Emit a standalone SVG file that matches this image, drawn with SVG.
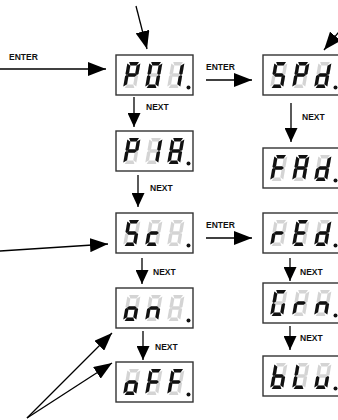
<svg xmlns="http://www.w3.org/2000/svg" xmlns:xlink="http://www.w3.org/1999/xlink" width="338" height="420" viewBox="0 0 338 420">
<style>
.bg{fill:#fff}
.box{fill:#fff;stroke:#333;stroke-width:1.4}
.dg{fill:#111}
.u{fill:#d4d4d4}
.dot{fill:#111}
.ln{stroke:#000;stroke-width:1.3;fill:none}
.big{marker-end:url(#ahb)}
.sm{marker-end:url(#ahs)}
.lbl{font-family:"Liberation Sans",Arial,sans-serif;font-weight:bold;font-size:8.5px;fill:#111}
</style>
<defs>
<marker id="ahb" markerUnits="userSpaceOnUse" markerWidth="19" markerHeight="14" refX="18" refY="7" orient="auto"><path d="M0,0 L18,7 L0,14 Z" fill="#000"/></marker>
<marker id="ahs" markerUnits="userSpaceOnUse" markerWidth="15" markerHeight="13" refX="14" refY="6.5" orient="auto"><path d="M0,0 L14,6.5 L0,13 Z" fill="#000"/></marker>
<g id="d8">
<polygon id="a" points="1.6,0 11.4,0 9.6,3.4 3.4,3.4"/>
<polygon id="b" points="13,1.6 13,12 11.6,13 9.6,11.4 9.6,3.8"/>
<polygon id="c" points="11.6,13 13,14 13,24.4 9.6,22.2 9.6,14.6"/>
<polygon id="d" points="3.4,22.6 9.6,22.6 11.4,26 1.6,26"/>
<polygon id="e" points="0,14 1.4,13 3.4,14.6 3.4,22.2 0,24.4"/>
<polygon id="f" points="0,1.6 3.4,3.8 3.4,11.4 1.4,13 0,12"/>
<polygon id="g" points="1.4,13 3.4,11.3 9.6,11.3 11.6,13 9.6,14.7 3.4,14.7"/>
</g>
</defs>
<rect class="bg" x="0" y="0" width="338" height="420"/>

<g id="node-P01">
<rect class="box" x="116" y="55" width="77" height="40"/>
<g class="dg" transform="translate(127.6,62) skewX(-10)"><use href="#d8" class="u"/><use href="#a"/><use href="#b"/><use href="#e"/><use href="#f"/><use href="#g"/></g>
<g class="dg" transform="translate(149.6,62) skewX(-10)"><use href="#d8" class="u"/><use href="#a"/><use href="#b"/><use href="#c"/><use href="#d"/><use href="#e"/><use href="#f"/></g>
<g class="dg" transform="translate(171.6,62) skewX(-10)"><use href="#d8" class="u"/><use href="#b"/><use href="#c"/></g>
<circle class="dot" cx="188.5" cy="87.5" r="2"/>
</g>

<g id="node-P18">
<rect class="box" x="116" y="131" width="77" height="40"/>
<g class="dg" transform="translate(127.6,138) skewX(-10)"><use href="#d8" class="u"/><use href="#a"/><use href="#b"/><use href="#e"/><use href="#f"/><use href="#g"/></g>
<g class="dg" transform="translate(149.6,138) skewX(-10)"><use href="#d8" class="u"/><use href="#b"/><use href="#c"/></g>
<g class="dg" transform="translate(171.6,138) skewX(-10)"><use href="#d8"/></g>
<circle class="dot" cx="188.5" cy="163.5" r="2"/>
</g>

<g id="node-Sc">
<rect class="box" x="116" y="213" width="77" height="40"/>
<g class="dg" transform="translate(127.6,220) skewX(-10)"><use href="#d8" class="u"/><use href="#a"/><use href="#c"/><use href="#d"/><use href="#f"/><use href="#g"/></g>
<g class="dg" transform="translate(149.6,220) skewX(-10)"><use href="#d8" class="u"/><use href="#d"/><use href="#e"/><use href="#g"/></g>
<g class="dg" transform="translate(171.6,220) skewX(-10)"><use href="#d8" class="u"/></g>
<circle class="dot" cx="188.5" cy="245.5" r="2"/>
</g>

<g id="node-on">
<rect class="box" x="116" y="288" width="77" height="40"/>
<g class="dg" transform="translate(127.6,295) skewX(-10)"><use href="#d8" class="u"/><use href="#c"/><use href="#d"/><use href="#e"/><use href="#g"/></g>
<g class="dg" transform="translate(149.6,295) skewX(-10)"><use href="#d8" class="u"/><use href="#c"/><use href="#e"/><use href="#g"/></g>
<g class="dg" transform="translate(171.6,295) skewX(-10)"><use href="#d8" class="u"/></g>
<circle class="dot" cx="188.5" cy="320.5" r="2"/>
</g>

<g id="node-oFF">
<rect class="box" x="116" y="362" width="77" height="40"/>
<g class="dg" transform="translate(127.6,369) skewX(-10)"><use href="#d8" class="u"/><use href="#c"/><use href="#d"/><use href="#e"/><use href="#g"/></g>
<g class="dg" transform="translate(149.6,369) skewX(-10)"><use href="#d8" class="u"/><use href="#a"/><use href="#e"/><use href="#f"/><use href="#g"/></g>
<g class="dg" transform="translate(171.6,369) skewX(-10)"><use href="#d8" class="u"/><use href="#a"/><use href="#e"/><use href="#f"/><use href="#g"/></g>
<circle class="dot" cx="188.5" cy="394.5" r="2"/>
</g>

<g id="node-SPd">
<rect class="box" x="263" y="55" width="77" height="40"/>
<g class="dg" transform="translate(274.6,62) skewX(-10)"><use href="#d8" class="u"/><use href="#a"/><use href="#c"/><use href="#d"/><use href="#f"/><use href="#g"/></g>
<g class="dg" transform="translate(296.6,62) skewX(-10)"><use href="#d8" class="u"/><use href="#a"/><use href="#b"/><use href="#e"/><use href="#f"/><use href="#g"/></g>
<g class="dg" transform="translate(318.6,62) skewX(-10)"><use href="#d8" class="u"/><use href="#b"/><use href="#c"/><use href="#d"/><use href="#e"/><use href="#g"/></g>
<circle class="dot" cx="335.5" cy="87.5" r="2"/>
</g>

<g id="node-FAd">
<rect class="box" x="263" y="148" width="77" height="40"/>
<g class="dg" transform="translate(274.6,155) skewX(-10)"><use href="#d8" class="u"/><use href="#a"/><use href="#e"/><use href="#f"/><use href="#g"/></g>
<g class="dg" transform="translate(296.6,155) skewX(-10)"><use href="#d8" class="u"/><use href="#a"/><use href="#b"/><use href="#c"/><use href="#e"/><use href="#f"/><use href="#g"/></g>
<g class="dg" transform="translate(318.6,155) skewX(-10)"><use href="#d8" class="u"/><use href="#b"/><use href="#c"/><use href="#d"/><use href="#e"/><use href="#g"/></g>
<circle class="dot" cx="335.5" cy="180.5" r="2"/>
</g>

<g id="node-rEd">
<rect class="box" x="263" y="213" width="77" height="40"/>
<g class="dg" transform="translate(274.6,220) skewX(-10)"><use href="#d8" class="u"/><use href="#e"/><use href="#g"/></g>
<g class="dg" transform="translate(296.6,220) skewX(-10)"><use href="#d8" class="u"/><use href="#a"/><use href="#d"/><use href="#e"/><use href="#f"/><use href="#g"/></g>
<g class="dg" transform="translate(318.6,220) skewX(-10)"><use href="#d8" class="u"/><use href="#b"/><use href="#c"/><use href="#d"/><use href="#e"/><use href="#g"/></g>
<circle class="dot" cx="335.5" cy="245.5" r="2"/>
</g>

<g id="node-Grn">
<rect class="box" x="263" y="283" width="77" height="40"/>
<g class="dg" transform="translate(274.6,290) skewX(-10)"><use href="#d8" class="u"/><use href="#a"/><use href="#c"/><use href="#d"/><use href="#e"/><use href="#f"/></g>
<g class="dg" transform="translate(296.6,290) skewX(-10)"><use href="#d8" class="u"/><use href="#e"/><use href="#g"/></g>
<g class="dg" transform="translate(318.6,290) skewX(-10)"><use href="#d8" class="u"/><use href="#c"/><use href="#e"/><use href="#g"/></g>
<circle class="dot" cx="335.5" cy="315.5" r="2"/>
</g>

<g id="node-blu">
<rect class="box" x="263" y="356" width="77" height="40"/>
<g class="dg" transform="translate(274.6,363) skewX(-10)"><use href="#d8" class="u"/><use href="#c"/><use href="#d"/><use href="#e"/><use href="#f"/><use href="#g"/></g>
<g class="dg" transform="translate(296.6,363) skewX(-10)"><use href="#d8" class="u"/><use href="#d"/><use href="#e"/><use href="#f"/></g>
<g class="dg" transform="translate(318.6,363) skewX(-10)"><use href="#d8" class="u"/><use href="#c"/><use href="#d"/><use href="#e"/></g>
<circle class="dot" cx="335.5" cy="388.5" r="2"/>
</g>

<g id="connectors">
<line class="ln big" x1="0" y1="69" x2="106" y2="69"/>
<line class="ln big" x1="136" y1="6" x2="147" y2="49"/>
<line class="ln big" x1="352" y1="16" x2="324" y2="50"/>
<line class="ln big" x1="206" y1="80" x2="252" y2="80"/>
<line class="ln sm" x1="134" y1="97" x2="134" y2="127"/>
<line class="ln sm" x1="291" y1="103" x2="291" y2="142"/>
<line class="ln sm" x1="138" y1="175" x2="138" y2="207"/>
<line class="ln big" x1="0" y1="251" x2="108" y2="244"/>
<line class="ln big" x1="206" y1="238" x2="252" y2="238"/>
<line class="ln sm" x1="142" y1="258" x2="142" y2="284"/>
<line class="ln sm" x1="290" y1="258" x2="290" y2="281"/>
<line class="ln sm" x1="143" y1="331" x2="143" y2="360"/>
<line class="ln sm" x1="290" y1="326" x2="290" y2="350"/>
<line class="ln big" x1="27" y1="418" x2="112" y2="333"/>
<line class="ln big" x1="27" y1="418" x2="112" y2="363"/>
</g>

<g id="labels">
<text class="lbl" x="9" y="60">ENTER</text>
<text class="lbl" x="206" y="70">ENTER</text>
<text class="lbl" x="146" y="110">NEXT</text>
<text class="lbl" x="302" y="120">NEXT</text>
<text class="lbl" x="150" y="191">NEXT</text>
<text class="lbl" x="206" y="228">ENTER</text>
<text class="lbl" x="153" y="275">NEXT</text>
<text class="lbl" x="300" y="275">NEXT</text>
<text class="lbl" x="155" y="350">NEXT</text>
<text class="lbl" x="300" y="341">NEXT</text>
</g>
</svg>
